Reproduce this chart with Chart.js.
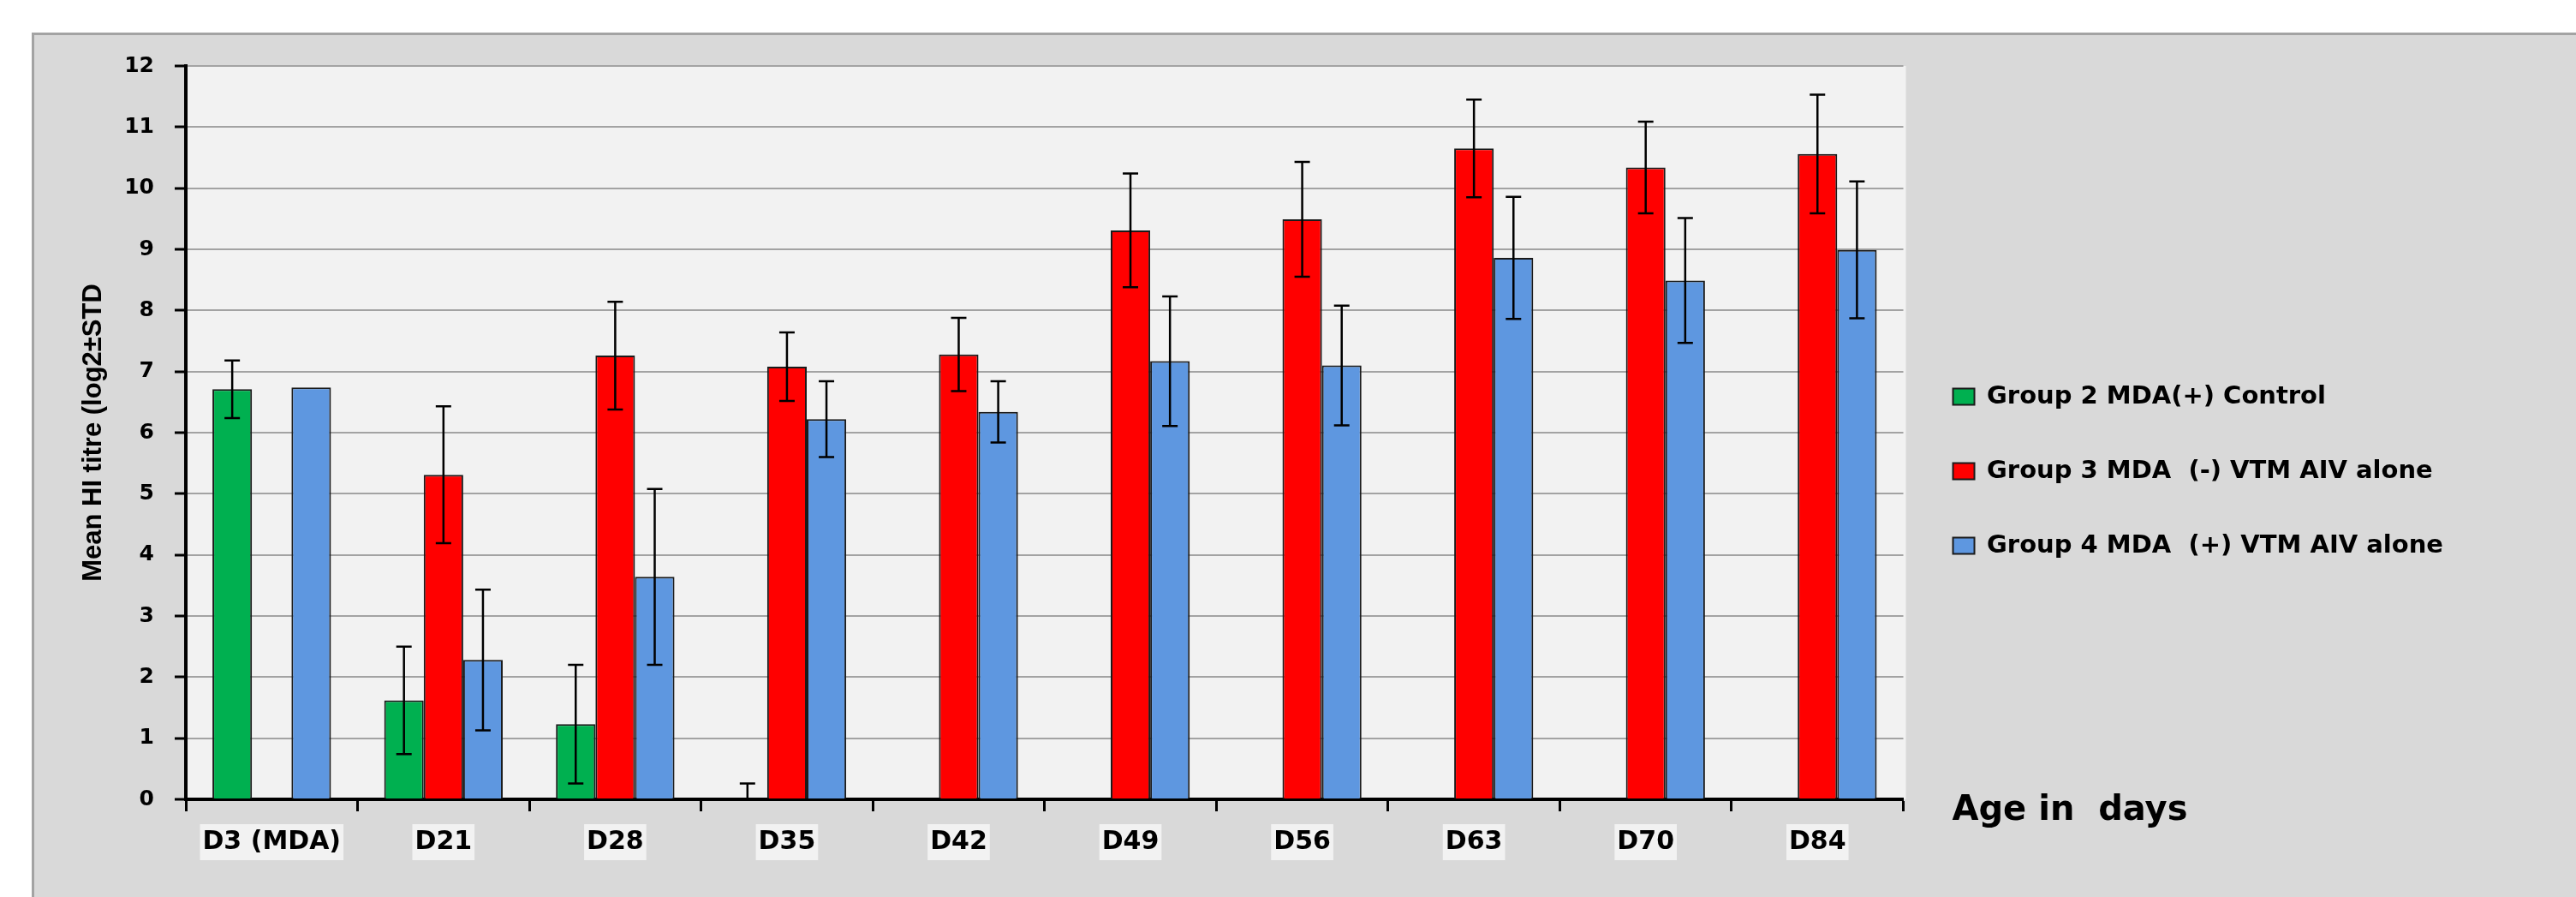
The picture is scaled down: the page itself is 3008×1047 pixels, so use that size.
<!DOCTYPE HTML>
<html>
<head>
  <title>Mean HI titre by age</title>
  <meta charset="utf-8">
  <script src="https://cdn.jsdelivr.net/npm/chart.js@4"></script>
  <style>
    html, body { margin: 0; padding: 0; background: #fff; overflow: hidden; }
    body { width: 3008px; height: 1047px; position: relative; }
    .frame { position: absolute; left: 37px; top: 38px; width: 2980px; height: 1040px;
             background: #d9d9d9; border-top: 3px solid #a3a3a3; border-left: 3px solid #a3a3a3; }
    .wrap { position: absolute; left: 0; top: 0; width: 3008px; height: 1047px; }
  </style>
</head>
<body>
  <div class="frame"></div>
  <div class="wrap"><canvas id="chart" width="3008" height="1047"></canvas></div>
  <script>
    const categories = ['D3 (MDA)', 'D21', 'D28', 'D35', 'D42', 'D49', 'D56', 'D63', 'D70', 'D84'];
    const seriesNames = ['Group 2 MDA(+) Control', 'Group 3 MDA  (-) VTM AIV alone', 'Group 4 MDA  (+) VTM AIV alone'];

    const group2 = [6.71, 1.62, 1.23, 0, null, null, null, null, null, null];
    const group2Std = [0.47, 0.88, 0.97, 0.26, null, null, null, null, null, null];
    const group3 = [null, 5.31, 7.26, 7.08, 7.28, 9.31, 9.49, 10.65, 10.34, 10.56];
    const group3Std = [null, 1.12, 0.88, 0.56, 0.60, 0.93, 0.94, 0.80, 0.75, 0.97];
    const group4 = [6.74, 2.28, 3.64, 6.22, 6.34, 7.17, 7.10, 8.86, 8.49, 8.99];
    const group4Std = [null, 1.15, 1.44, 0.62, 0.50, 1.06, 0.98, 1.00, 1.02, 1.12];

    const yTitle = 'Mean HI titre (log2±STD';
    const xTitle = 'Age in  days';

    const stds = [group2Std, group3Std, group4Std];

    // plot area background
    const plotBg = {
      id: 'plotBg',
      beforeDraw(chart) {
        const { ctx, chartArea: a } = chart;
        ctx.save();
        ctx.fillStyle = '#f2f2f2';
        ctx.fillRect(a.left, a.top, a.right - a.left + 3, a.bottom - a.top);
        ctx.restore();
      }
    };

    // error bars (mean ± STD)
    const errorBars = {
      id: 'errorBars',
      afterDatasetsDraw(chart) {
        const { ctx } = chart;
        const y = chart.scales.y;
        ctx.save();
        ctx.strokeStyle = '#000';
        ctx.lineWidth = 2.5;
        chart.data.datasets.forEach((ds, i) => {
          const meta = chart.getDatasetMeta(i);
          meta.data.forEach((bar, j) => {
            const v = ds.data[j];
            const s = stds[i][j];
            if (v == null || s == null) return;
            const x = bar.x;
            const yt = y.getPixelForValue(v + s);
            const lo = v - s;
            const yb = y.getPixelForValue(Math.max(0, lo));
            ctx.beginPath();
            ctx.moveTo(x, yt); ctx.lineTo(x, yb);
            ctx.moveTo(x - 9, yt); ctx.lineTo(x + 9, yt);
            if (lo > 0) { ctx.moveTo(x - 9, yb); ctx.lineTo(x + 9, yb); }
            ctx.stroke();
          });
        });
        ctx.restore();
      }
    };

    // x axis title sits to the right of the axis
    const sideTitle = {
      id: 'sideTitle',
      afterDraw(chart) {
        const { ctx, chartArea: a } = chart;
        ctx.save();
        ctx.fillStyle = '#000';
        ctx.font = 'bold 40px "DejaVu Sans"';
        ctx.textAlign = 'left';
        ctx.textBaseline = 'middle';
        ctx.fillText(xTitle, a.right + 57, chart.scales.y.getPixelForValue(0) + 14);
        ctx.restore();
      }
    };

    const colors = ['#00b050', '#ff0000', '#5e97e0'];
    const values = [group2, group3, group4];

    // legend width is measured so the plot ends where the reference's does
    const legendFont = { family: 'DejaVu Sans', weight: 'bold', size: 29 };
    const legendPad = 58, boxW = 25;
    const mctx = document.createElement('canvas').getContext('2d');
    mctx.font = `bold ${legendFont.size}px "DejaVu Sans"`;
    const textW = Math.max(...seriesNames.map(n => mctx.measureText(n).width));
    const legendW = legendPad + boxW + legendFont.size / 2 + textW + 10;
    const plotRight = 2220;
    const rightPad = Math.max(0, 3008 - plotRight - Math.ceil(legendW) - 2);

    new Chart(document.getElementById('chart'), {
      type: 'bar',
      data: {
        labels: categories,
        datasets: values.map((d, i) => ({
          label: seriesNames[i],
          data: d,
          backgroundColor: colors[i],
          borderColor: '#1a1a1a',
          borderWidth: 2,
          categoryPercentage: 0.69,
          barPercentage: 1
        }))
      },
      options: {
        responsive: false,
        animation: false,
        layout: { padding: { top: 77, right: rightPad, bottom: 24, left: 0 } },
        plugins: {
          tooltip: { enabled: false },
          legend: {
            position: 'right',
            labels: {
              boxWidth: boxW,
              boxHeight: 19,
              padding: legendPad,
              color: '#000',
              font: legendFont
            }
          }
        },
        scales: {
          x: {
            afterFit(s) { s.height = 90; },
            border: { color: '#000', width: 4 },
            grid: { drawOnChartArea: false, offset: true, tickLength: 14, tickColor: '#000', tickWidth: 3 },
            ticks: {
              color: '#000',
              padding: 18,
              font: { family: 'DejaVu Sans', weight: 'bold', size: 30 },
              showLabelBackdrop: true,
              backdropColor: '#f2f2f2',
              backdropPadding: 3
            }
          },
          y: {
            min: 0,
            max: 12,
            afterFit(s) { s.width = 217; },
            border: { color: '#000', width: 4 },
            grid: { color: '#a3a3a3', lineWidth: 2, tickLength: 13, tickColor: '#000', tickWidth: 3 },
            ticks: {
              stepSize: 1,
              color: '#000',
              padding: 24,
              font: { family: 'DejaVu Sans', weight: 'bold', size: 25 }
            },
            title: {
              display: true,
              text: yTitle,
              color: '#000',
              padding: { top: 91, bottom: 0 },
              font: { family: 'Liberation Sans', weight: 'bold', size: 31 }
            }
          }
        }
      },
      plugins: [plotBg, errorBars, sideTitle]
    });
  </script>
</body>
</html>
